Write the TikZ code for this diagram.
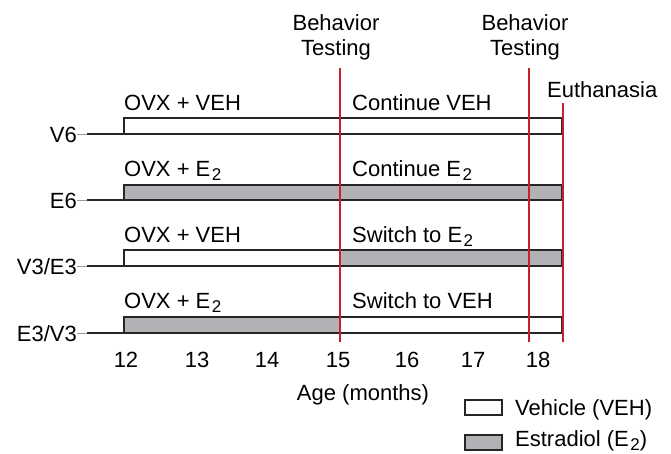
\documentclass[tikz,border=0pt]{standalone}
\usepackage{fontspec}
\setmainfont{Liberation Sans}
\usepackage{xcolor}
\usetikzlibrary{positioning,calc}
\definecolor{estgray}{RGB}{178,178,182}
\definecolor{markred}{RGB}{200,32,44}
\newcommand{\Etwo}{E\kern1.5pt\raisebox{-0.35ex}{\fontsize{17}{17}\selectfont 2}}

\begin{document}
\begin{tikzpicture}[x=1pt,y=-1pt,font=\fontsize{22}{25}\selectfont,
  vehbar/.style={draw=black!85,line width=1.3pt,fill=white},
  estbar/.style={draw=black!85,line width=1.3pt,fill=estgray},
  markline/.style={markred,line width=2.8pt},
  lbl/.style={inner sep=0pt,anchor=base west},
  rowlbl/.style={inner sep=0pt,anchor=base east}]
  \useasboundingbox (0,0) rectangle (671,453);

  % treatment bars (12 to 15, 15 to end)
  \draw[vehbar] (124,118) rectangle (340,134);
  \draw[vehbar] (340,118) rectangle (562,134);
  \draw[estbar] (124,185) rectangle (340,200);
  \draw[estbar] (340,185) rectangle (562,200);
  \draw[vehbar] (124,250) rectangle (340,266);
  \draw[estbar] (340,250) rectangle (562,266);
  \draw[estbar] (124,317) rectangle (340,333);
  \draw[vehbar] (340,317) rectangle (562,333);

  % group labels and lead-in lines
  \foreach \y/\name/\txt in {134/vsix/V6, 200/esix/E6, 266/vthree/{V3/E3}, 333/ethree/{E3/V3}} {
    \node[rowlbl] (\name) at (77,\y+8.5) {\txt};
    \coordinate (\name s) at (124,\y);
    \draw[black!40,line width=0.6pt] (\name.east|-\name s) -- ++(10,0);
    \draw[black!85,line width=1.3pt] ($(\name s)+(-37,0)$) -- (\name s);
  }

  % treatment texts
  \node[lbl] (ovxa) at (124,110) {OVX + VEH};
  \node[lbl] (ovxb) at (124,176) {OVX + \Etwo};
  \node[lbl] (ovxc) at (124,242) {OVX + VEH};
  \node[lbl] (ovxd) at (124,308) {OVX + \Etwo};
  \node[lbl] (conta) at (352,110) {Continue VEH};
  \node[lbl] (contb) at (352,176) {Continue \Etwo};
  \node[lbl] (swa) at (352,242) {Switch to \Etwo};
  \node[lbl] (swb) at (352,308) {Switch to VEH};

  % testing and euthanasia markers
  \coordinate (bta) at (340,68);
  \coordinate (btb) at (529,68);
  \coordinate (eut) at (563,103);
  \draw[markline] (bta) -- (340,342);
  \draw[markline] (btb) -- (529,342);
  \draw[markline] (eut) -- (563,342);
  \node[inner sep=0pt,align=center,anchor=base,font=\fontsize{22}{25}\selectfont] (btla) at (336,55) {Behavior\\Testing};
  \node[inner sep=0pt,align=center,anchor=base,font=\fontsize{22}{25}\selectfont] (btlb) at (525,55) {Behavior\\Testing};
  \node[lbl] (eutl) at (547,97) {Euthanasia};

  % age axis
  \foreach \x/\m in {126/12, 197/13, 267/14, 338/15, 407/16, 473/17, 538/18}
    \node[inner sep=0pt,anchor=base] (age\m) at (\x,367) {\m};
  \node[inner sep=0pt,anchor=base] (agel) at (363,400) {Age (months)};

  % legend
  \draw[vehbar,line width=1.1pt] (465,400) rectangle (502,415);
  \node[lbl] (legv) at (515,415) {Vehicle (VEH)};
  \draw[estbar,line width=1.1pt] (465,435) rectangle (502,450);
  \node[lbl] (lege) at (515,446) {Estradiol (\Etwo)};
\end{tikzpicture}
\end{document}
